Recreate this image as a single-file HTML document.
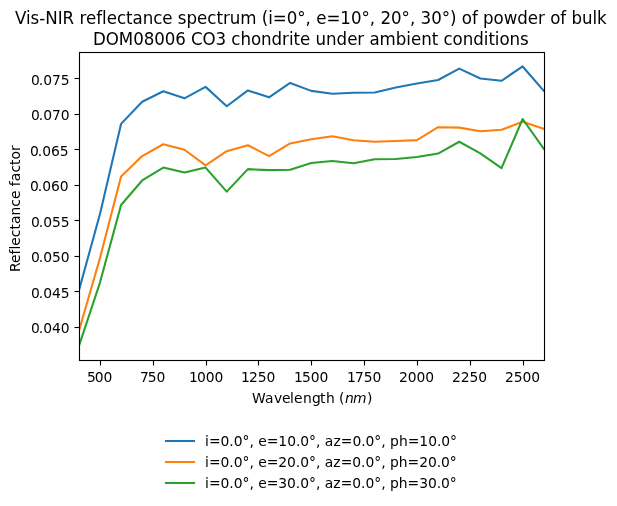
<!DOCTYPE html>
<html lang="en">
<head>
<meta charset="utf-8">
<title>Vis-NIR reflectance spectrum</title>
<style>
html,body{margin:0;padding:0;background:#ffffff;}
body{width:617px;height:506px;overflow:hidden;font-family:"DejaVu Sans", "Liberation Sans", sans-serif;}
svg text{white-space:pre;}
</style>
</head>
<body>
<svg width="617" height="506" viewBox="0 0 617 506" style="display:block">
<rect x="0" y="0" width="617" height="506" fill="#ffffff"/>
<clipPath id="axclip"><rect x="79" y="52" width="465" height="308"/></clipPath>
<g clip-path="url(#axclip)" fill="none" stroke-width="2.0833" stroke-linejoin="round" stroke-linecap="square">
<polyline stroke="#1f77b4" points="78.78,291.00 99.91,214.20 121.05,123.89 142.19,101.76 163.32,91.23 184.46,98.35 205.60,86.89 226.73,106.24 247.87,90.44 269.01,97.35 290.14,82.98 311.28,90.87 332.41,93.79 353.55,92.79 374.69,92.44 395.82,87.46 416.96,83.54 438.10,79.99 459.23,68.67 480.37,78.56 501.51,80.77 522.64,66.45 543.78,90.87"/>
<polyline stroke="#ff7f0e" points="78.78,331.50 99.91,258.30 121.05,176.49 142.19,156.06 163.32,144.25 184.46,149.73 205.60,165.38 226.73,151.16 247.87,145.25 269.01,156.06 290.14,143.47 311.28,139.27 332.41,136.28 353.55,140.27 374.69,141.83 395.82,141.05 416.96,140.12 438.10,127.17 459.23,127.60 480.37,131.23 501.51,129.80 522.64,121.80 543.78,128.81"/>
<polyline stroke="#2ca02c" points="78.78,346.46 99.91,282.80 121.05,205.03 142.19,180.47 163.32,167.59 184.46,172.58 205.60,167.59 226.73,191.65 247.87,169.16 269.01,170.16 290.14,169.73 311.28,163.04 332.41,161.05 353.55,163.26 374.69,159.26 395.82,159.05 416.96,157.06 438.10,153.57 459.23,141.76 480.37,153.29 501.51,168.09 522.64,119.00 543.78,148.74"/>
</g>
<g stroke="#000000" stroke-width="1.1111" fill="none">
<line x1="100.5" y1="360.5" x2="100.5" y2="365.5"/>
<line x1="153.5" y1="360.5" x2="153.5" y2="365.5"/>
<line x1="206.5" y1="360.5" x2="206.5" y2="365.5"/>
<line x1="258.5" y1="360.5" x2="258.5" y2="365.5"/>
<line x1="311.5" y1="360.5" x2="311.5" y2="365.5"/>
<line x1="364.5" y1="360.5" x2="364.5" y2="365.5"/>
<line x1="417.5" y1="360.5" x2="417.5" y2="365.5"/>
<line x1="470.5" y1="360.5" x2="470.5" y2="365.5"/>
<line x1="523.5" y1="360.5" x2="523.5" y2="365.5"/>
<line x1="74.5" y1="78.5" x2="79.5" y2="78.5"/>
<line x1="74.5" y1="114.5" x2="79.5" y2="114.5"/>
<line x1="74.5" y1="149.5" x2="79.5" y2="149.5"/>
<line x1="74.5" y1="185.5" x2="79.5" y2="185.5"/>
<line x1="74.5" y1="220.5" x2="79.5" y2="220.5"/>
<line x1="74.5" y1="256.5" x2="79.5" y2="256.5"/>
<line x1="74.5" y1="291.5" x2="79.5" y2="291.5"/>
<line x1="74.5" y1="327.5" x2="79.5" y2="327.5"/>
<rect x="79.5" y="52.5" width="465" height="308" stroke-linejoin="miter"/>
</g>
<g font-family='"DejaVu Sans", "Liberation Sans", sans-serif' font-size="13.8889" fill="#000000">
<text x="87 94.75 103.5" y="382">500</text>
<text x="140 147.75 156.5" y="382">750</text>
<text x="189 196.875 205.625 214.375" y="382">1000</text>
<text x="241 248.875 257.625 266.375" y="382">1250</text>
<text x="294 301.875 310.625 319.375" y="382">1500</text>
<text x="347 354.875 363.625 372.375" y="382">1750</text>
<text x="399 407.75 416.5 425.25" y="382">2000</text>
<text x="452 460.75 469.5 478.25" y="382">2250</text>
<text x="505 513.75 522.5 531.25" y="382">2500</text>
<text x="31 38.75 43.125 51.875 60.625" y="333">0.040</text>
<text x="31 38.75 43.125 51.875 60.625" y="298">0.045</text>
<text x="31 38.75 43.125 51.875 60.625" y="262">0.050</text>
<text x="31 38.75 43.125 51.875 60.625" y="227">0.055</text>
<text x="30 37.75 42.125 50.875 59.75" y="191">0.060</text>
<text x="30 37.75 42.125 50.875 59.75" y="156">0.065</text>
<text x="31 38.75 43.125 51.875 60.625" y="120">0.070</text>
<text x="31 38.75 43.125 51.875 60.625" y="85">0.075</text>
<text y="403.0"><tspan x="252 265 274 282 290 294 303 312 320 326 335 339">Wavelength (</tspan><tspan font-style="italic" x="345 353">nm</tspan><tspan x="367">)</tspan></text>
<text transform="translate(20 272) rotate(-90)" x="0 9 17.5 22.5 26.375 34.875 42.5 48 56.625 65.375 73 81.5 85.875 90.875 99.5 107.125 112.625 121.125" y="0">Reflectance factor</text>
<line x1="166" y1="441" x2="194" y2="441" stroke="#1f77b4" stroke-width="2.0833" stroke-linecap="square"/>
<text x="205 208.875 220.5 229.25 233.625 242.375 249.375 253.75 258.125 266.625 278.25 287.125 295.875 300.25 309 316 320.375 324.75 333.375 340.75 352.375 361.125 365.5 374.25 381.25 385.625 390 398.875 407.625 419.25 428.125 436.875 441.25 450" y="446">i=0.0°, e=10.0°, az=0.0°, ph=10.0°</text>
<line x1="166" y1="462" x2="194" y2="462" stroke="#ff7f0e" stroke-width="2.0833" stroke-linecap="square"/>
<text x="205 208.875 220.5 229.25 233.625 242.375 249.375 253.75 258.125 266.625 278.25 287 295.75 300.125 308.875 315.875 320.25 324.625 333.25 340.625 352.25 361 365.375 374.125 381.125 385.5 389.875 398.75 407.5 419.125 427.875 436.625 441 449.75" y="467">i=0.0°, e=20.0°, az=0.0°, ph=20.0°</text>
<line x1="166" y1="483" x2="194" y2="483" stroke="#2ca02c" stroke-width="2.0833" stroke-linecap="square"/>
<text x="205 208.875 220.5 229.25 233.625 242.375 249.375 253.75 258.125 266.625 278.25 287 295.75 300.125 308.875 315.875 320.25 324.625 333.25 340.625 352.25 361 365.375 374.125 381.125 385.5 389.875 398.75 407.5 419.125 427.875 436.625 441 449.75" y="488">i=0.0°, e=30.0°, az=0.0°, ph=30.0°</text>
</g>
<g font-family='"DejaVu Sans", "Liberation Sans", sans-serif' font-size="17.4" fill="#000000" transform="scale(0.95786 1)">
<text x="15.66 27.144 31.972 41.107 47.241 60.291 65.38 77.517 82.998 89.784 100.485 106.618 111.447 122.148 131.674 138.46 149.031 159.993 169.519 180.22 185.701 194.836 205.798 216.499 226.026 232.812 239.989 250.951 267.916 273.397 280.052 284.881 299.366 310.328 319.072 324.683 330.164 340.865 355.351 366.443 377.405 386.149 391.76 397.241 408.334 419.296 428.039 433.651 439.132 450.224 461.186 469.93 476.716 482.197 492.767 498.901 504.381 515.343 525.914 540.138 551.1 561.801 568.979 574.46 585.03 591.164 596.645 607.607 618.569 623.397" y="24">Vis-NIR reflectance spectrum (i=0°, e=10°, 20°, 30°) of powder of bulk</text>
<text x="97.092 110.533 124.105 139.113 150.075 161.037 171.999 182.961 193.923 199.404 211.41 224.982 236.074 241.555 251.081 262.043 272.614 283.576 294.538 301.715 306.544 313.33 324.031 329.512 340.474 351.436 362.398 373.099 380.276 385.757 396.328 413.293 424.255 429.083 439.784 450.746 457.532 463.013 472.54 483.11 494.072 505.034 509.862 516.648 521.477 532.047 543.009" y="45">DOM08006 CO3 chondrite under ambient conditions</text>
</g>
</svg>
</body>
</html>
